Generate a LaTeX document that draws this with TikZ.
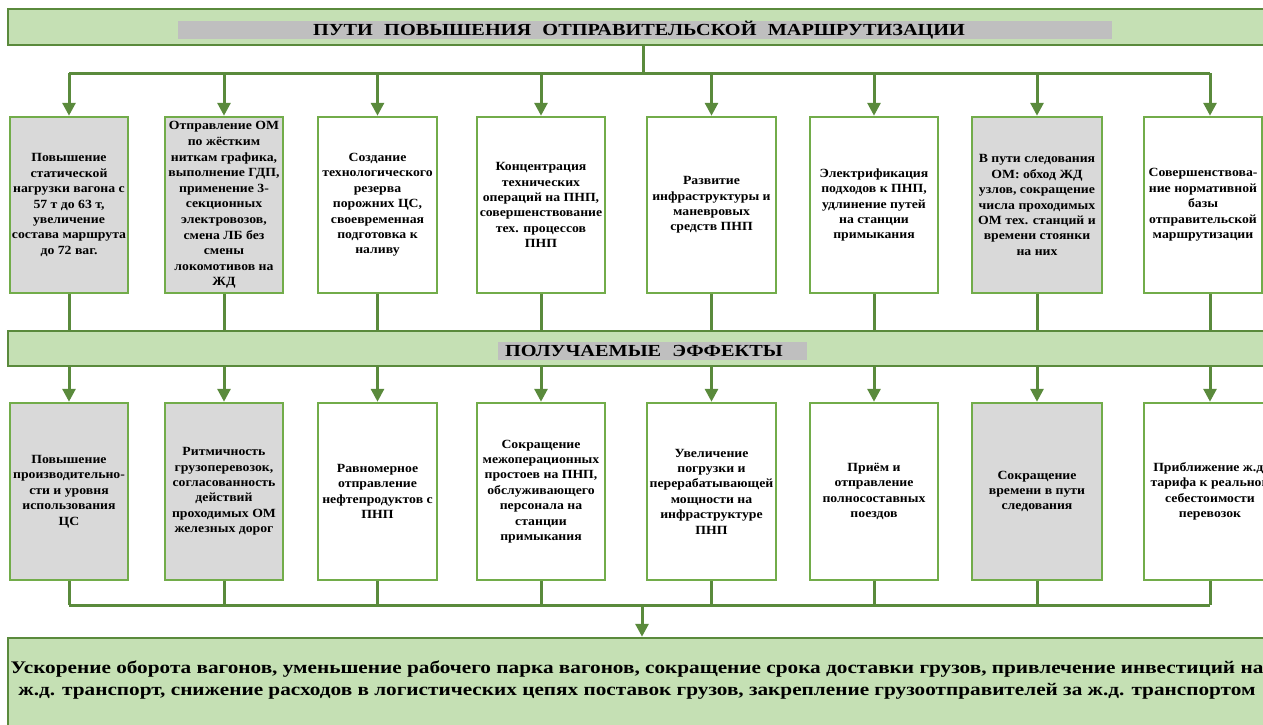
\documentclass[tikz,border=0pt]{standalone}
\usepackage{fontspec}
\setmainfont{Liberation Serif}[FakeStretch=1.2]
\newfontfamily\boxfont{Liberation Serif}[FakeStretch=1.1]
\usetikzlibrary{arrows.meta}
\definecolor{bfill}{HTML}{C5E0B4}
\definecolor{bline}{HTML}{5A8A3C}
\definecolor{boxline}{HTML}{72AC4A}
\definecolor{gfill}{HTML}{D9D9D9}
\definecolor{hgray}{HTML}{BFBFBF}
\begin{document}
\begin{tikzpicture}[x=1pt,y=-1pt,
  banner/.style={draw=bline, fill=bfill, line width=2.5pt, inner sep=0pt},
  hl/.style={fill=hgray, inner sep=0pt, font=\bfseries\fontsize{16.9}{18}\selectfont},
  bx/.style={draw=boxline, line width=2.5pt, fill=white, align=center, inner sep=2pt, font=\boxfont\bfseries\fontsize{12.5}{15.4}\selectfont},
  gbx/.style={bx, fill=gfill},
  conn/.style={draw=bline, line width=3pt},
  arr/.style={conn, -{Triangle[width=13pt,length=13pt]}},
]
\useasboundingbox (0,0) rectangle (1263,724);

% banners
\node[banner, minimum width=1267pt, minimum height=36pt] (top) at (641.5,27) {};
\node[hl, text width=664pt, align=left, inner xsep=135pt, minimum height=17pt] (title) at (645,30) {ПУТИ~~ПОВЫШЕНИЯ~~ОТПРАВИТЕЛЬСКОЙ~~МАРШРУТИЗАЦИИ};
\node[banner, minimum width=1267pt, minimum height=35pt] (mid) at (641.5,348.5) {};
\node[hl, text width=295pt, align=left, inner xsep=7pt, minimum height=18pt] (midtitle) at (652.5,351) {ПОЛУЧАЕМЫЕ~~ЭФФЕКТЫ};
\node[banner, minimum width=1267pt, minimum height=100pt] (bot) at (641.5,688) {};
\node[font=\bfseries\fontsize{17.7}{22.5}\selectfont, align=center, inner sep=0pt] (btxt) at (637,680) {Ускорение оборота вагонов, уменьшение рабочего парка вагонов, сокращение срока доставки грузов, привлечение инвестиций на\\ж.д. транспорт, снижение расходов в логистических цепях поставок грузов, закрепление грузоотправителей за ж.д. транспортом};

% top row
\node[gbx, minimum width=118pt, minimum height=176pt] (t1) at (69,205) {Повышение\\статической\\нагрузки вагона с\\57 т до 63 т,\\увеличение\\состава маршрута\\до 72 ваг.};
\node[gbx, minimum width=118pt, minimum height=176pt, font=\boxfont\bfseries\fontsize{12.5}{15.6}\selectfont, inner sep=1pt] (t2) at (224,205) {Отправление ОМ\\по жёстким\\ниткам графика,\\выполнение ГДП,\\применение 3-\\секционных\\электровозов,\\смена ЛБ без\\смены\\локомотивов на\\ЖД};
\node[bx, minimum width=119pt, minimum height=176pt] (t3) at (377.5,205) {Создание\\технологического\\резерва\\порожних ЦС,\\своевременная\\подготовка к\\наливу};
\node[bx, minimum width=128pt, minimum height=176pt] (t4) at (541,205) {Концентрация\\технических\\операций на ПНП,\\совершенствование\\тех. процессов\\ПНП};
\node[bx, minimum width=129pt, minimum height=176pt] (t5) at (711.5,205) {Развитие\\инфраструктуры и\\маневровых\\средств ПНП};
\node[bx, minimum width=128pt, minimum height=176pt] (t6) at (874,205) {Электрификация\\подходов к ПНП,\\удлинение путей\\на станции\\примыкания};
\node[gbx, minimum width=130pt, minimum height=176pt] (t7) at (1037,205) {В пути следования\\ОМ: обход ЖД\\узлов, сокращение\\числа проходимых\\ОМ тех. станций и\\времени стоянки\\на них};
\node[bx, minimum width=118pt, minimum height=176pt] (t8) at (1203,205) {Совершенствова-\\ние нормативной\\базы\\отправительской\\маршрутизации};

% bottom row
\node[gbx, minimum width=118pt, minimum height=177pt] (b1) at (69,491.5) {Повышение\\производительно-\\сти и уровня\\использования\\ЦС};
\node[gbx, minimum width=118pt, minimum height=177pt] (b2) at (224,491.5) {Ритмичность\\грузоперевозок,\\согласованность\\действий\\проходимых ОМ\\железных дорог};
\node[bx, minimum width=119pt, minimum height=177pt] (b3) at (377.5,491.5) {Равномерное\\отправление\\нефтепродуктов с\\ПНП};
\node[bx, minimum width=128pt, minimum height=177pt] (b4) at (541,491.5) {Сокращение\\межоперационных\\простоев на ПНП,\\обслуживающего\\персонала на\\станции\\примыкания};
\node[bx, minimum width=129pt, minimum height=177pt] (b5) at (711.5,491.5) {Увеличение\\погрузки и\\перерабатывающей\\мощности на\\инфраструктуре\\ПНП};
\node[bx, minimum width=128pt, minimum height=177pt] (b6) at (874,491.5) {Приём и\\отправление\\полносоставных\\поездов};
\node[gbx, minimum width=130pt, minimum height=177pt] (b7) at (1037,491.5) {Сокращение\\времени в пути\\следования};
\node[bx, minimum width=132pt, minimum height=177pt] (b8) at (1210,491.5) {Приближение ж.д.\\тарифа к реальной\\себестоимости\\перевозок};

% connectors top
\coordinate (tj) at (643,73);
\coordinate (t8c) at (1210,205);
\draw[conn] (top.south -| tj) -- (tj);
\draw[conn] (t1 |- tj) -- (t8c |- tj);
\foreach \n in {t1,t2,t3,t4,t5,t6,t7} {
  \draw[arr] (\n |- tj) -- (\n.north);
  \draw[conn] (\n.south) -- (\n.south |- mid.north);
}
\draw[arr] (t8c |- tj) -- (t8c |- t8.north);
\draw[conn] (t8c |- t8.south) -- (t8c |- mid.north);

% connectors bottom
\coordinate (bj) at (642,605);
\foreach \n in {b1,b2,b3,b4,b5,b6,b7,b8} {
  \draw[arr] (\n.north |- mid.south) -- (\n.north);
  \draw[conn] (\n.south) -- (\n.south |- bj);
}
\draw[conn] (b1 |- bj) -- (b8 |- bj);
\draw[arr] (bj) -- (bj |- bot.north);
\end{tikzpicture}
\end{document}
